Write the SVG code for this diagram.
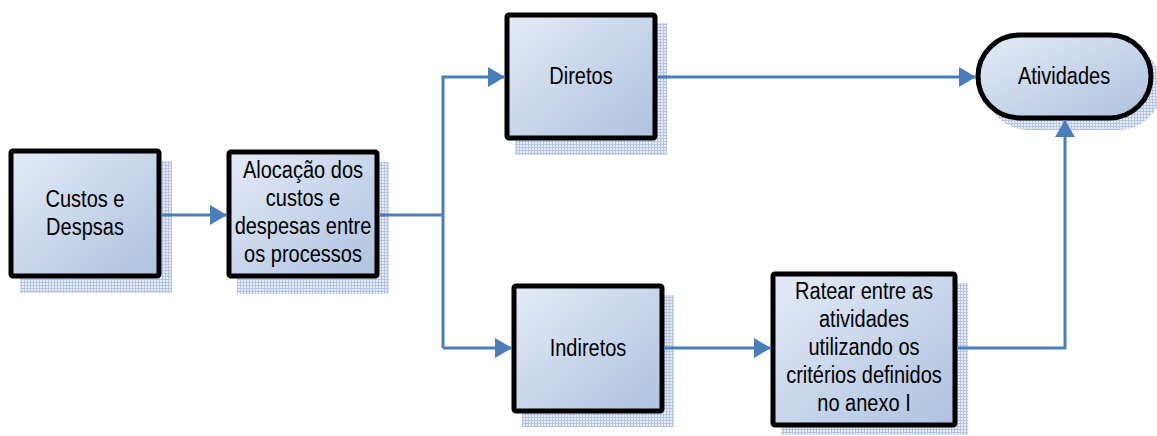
<svg xmlns="http://www.w3.org/2000/svg" width="1157" height="436" viewBox="0 0 1157 436">
<defs>
<linearGradient id="fill" x1="0" y1="0" x2="1" y2="1">
<stop offset="0" stop-color="#e4ebf6"/>
<stop offset="0.55" stop-color="#c6d4ea"/>
<stop offset="1" stop-color="#afc2e0"/>
</linearGradient>
<pattern id="hatch" width="3" height="3" patternUnits="userSpaceOnUse">
<rect width="3" height="3" fill="#e6ecf6"/>
<rect width="3" height="1" fill="#b5c4e0"/>
<rect width="1" height="3" fill="#b5c4e0"/>
</pattern>
<marker id="arr" viewBox="0 0 17 20" refX="17" refY="10" markerWidth="17" markerHeight="20" markerUnits="userSpaceOnUse" orient="auto">
<path d="M0,0 L17,10 L0,20 Z" fill="#4a7ebb"/>
</marker>
</defs>
<style>
.box{fill:url(#fill);stroke:#000;stroke-width:5;}
.sh{fill:url(#hatch);}
.t{font-family:"Liberation Sans",Arial,sans-serif;font-size:20px;fill:#000;text-anchor:middle;}
.c{fill:none;stroke:#4a7ebb;stroke-width:3;}
</style>
<g id="n1">
<rect class="sh" x="20" y="161" width="152" height="132"/>
<rect class="box" x="11" y="151" width="148" height="125" rx="2"/>
<text class="t" transform="translate(85 207) scale(1 1.15)">Custos e</text>
<text class="t" transform="translate(85 235) scale(1 1.15)">Despsas</text>
</g>
<g id="n2">
<rect class="sh" x="237" y="162" width="152" height="132"/>
<rect class="box" x="229" y="152" width="148" height="124" rx="2"/>
<text class="t" transform="translate(303 178) scale(1 1.15)">Alocação dos</text>
<text class="t" transform="translate(303 206) scale(1 1.15)">custos e</text>
<text class="t" transform="translate(303 234) scale(1 1.15)">despesas entre</text>
<text class="t" transform="translate(303 262) scale(1 1.15)">os processos</text>
</g>
<g id="n3">
<rect class="sh" x="515" y="23" width="152" height="132"/>
<rect class="box" x="507" y="15" width="148" height="123" rx="2"/>
<text class="t" transform="translate(581 84) scale(1 1.15)">Diretos</text>
</g>
<g id="n4">
<rect class="sh" x="522" y="295" width="152" height="132"/>
<rect class="box" x="514" y="286" width="148" height="125" rx="2"/>
<text class="t" transform="translate(588 356) scale(1 1.15)">Indiretos</text>
</g>
<g id="n5">
<rect class="sh" x="781" y="283" width="187" height="152"/>
<rect class="box" x="773" y="274" width="182" height="151" rx="2"/>
<text class="t" transform="translate(864 299) scale(1 1.15)">Ratear entre as</text>
<text class="t" transform="translate(864 327) scale(1 1.15)">atividades</text>
<text class="t" transform="translate(864 355) scale(1 1.15)">utilizando os</text>
<text class="t" transform="translate(864 383) scale(1 1.15)">critérios definidos</text>
<text class="t" transform="translate(864 411) scale(1 1.15)">no anexo I</text>
</g>
<g id="n6">
<rect class="sh" x="986" y="44" width="175" height="86" rx="42"/>
<rect class="box" x="978" y="35" width="173" height="83" rx="41.5"/>
<text class="t" transform="translate(1064 84) scale(1 1.15)">Atividades</text>
</g>
<g id="connectors">
<path class="c" d="M161,215 L227,215" marker-end="url(#arr)"/>
<path class="c" d="M379,215 L443,215"/>
<path class="c" d="M443,348 L443,77 L505,77" marker-end="url(#arr)"/>
<path class="c" d="M443,348 L512,348" marker-end="url(#arr)"/>
<path class="c" d="M657,77 L976,77" marker-end="url(#arr)"/>
<path class="c" d="M664,348 L771,348" marker-end="url(#arr)"/>
<path class="c" d="M957,348 L1065,348 L1065,120" marker-end="url(#arr)"/>
</g>
</svg>
